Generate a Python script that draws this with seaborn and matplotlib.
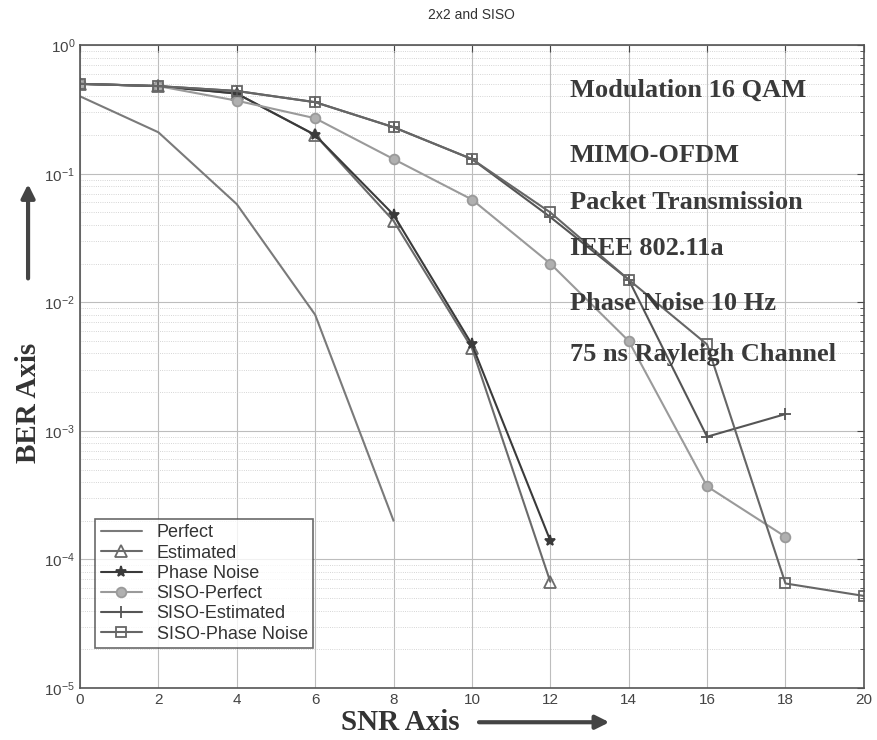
import numpy as np
import pandas as pd
import seaborn as sns
import matplotlib.pyplot as plt
from matplotlib.ticker import LogLocator, NullFormatter

# SNR points
snr = [0, 2, 4, 6, 8, 10, 12, 14, 16, 18, 20]

# BER values
perfect = [0.40, 0.21, 0.058, 0.008, 2.0e-4]
estimated = [0.50, 0.48, 0.42, 0.20, 0.043, 0.0044, 6.7e-5]
phase_noise = [0.50, 0.48, 0.42, 0.20, 0.048, 0.0047, 1.4e-4]
siso_perfect = [0.50, 0.48, 0.37, 0.27, 0.13, 0.063, 0.020, 0.0050, 3.7e-4, 1.5e-4]
siso_estimated = [0.50, 0.48, 0.44, 0.36, 0.23, 0.13, 0.046, 0.015, 9.0e-4, 1.35e-3]
siso_phase = [0.50, 0.48, 0.44, 0.36, 0.23, 0.13, 0.050, 0.015, 0.0047, 6.5e-5, 5.2e-5]

labels = ["Perfect", "Estimated", "Phase Noise", "SISO-Perfect", "SISO-Estimated", "SISO-Phase Noise"]
series = [perfect, estimated, phase_noise, siso_perfect, siso_estimated, siso_phase]

rows = []
for name, vals in zip(labels, series):
    for x, v in zip(snr, vals):
        rows.append({"SNR": x, "BER": v, "curve": name})
df = pd.DataFrame(rows)

styles = {
    "Perfect": dict(color="#7a7a7a", marker=None, mfc="none", ms=0),
    "Estimated": dict(color="#6a6a6a", marker="^", mfc="none", ms=8),
    "Phase Noise": dict(color="#3a3a3a", marker="*", mfc="#3a3a3a", ms=8),
    "SISO-Perfect": dict(color="#9a9a9a", marker="o", mfc="#b0b0b0", ms=7),
    "SISO-Estimated": dict(color="#555555", marker="+", mfc="none", ms=9),
    "SISO-Phase Noise": dict(color="#666666", marker="s", mfc="none", ms=7),
}

sns.set_style("white")
plt.rcParams["font.family"] = ["Liberation Sans", "DejaVu Sans"]

fig = plt.figure(figsize=(8.77, 7.40), dpi=100)
ax = fig.add_axes([0.0912, 0.0703, 0.8938, 0.8687])

for name in labels:
    st = styles[name]
    sub = df[df["curve"] == name]
    sns.lineplot(data=sub, x="SNR", y="BER", ax=ax, color=st["color"], lw=1.5,
                 marker=st["marker"], markersize=st["ms"], markerfacecolor=st["mfc"],
                 markeredgecolor=st["color"], markeredgewidth=1.3, label=name,
                 estimator=None)

ax.set_yscale("log")
ax.set_xlim(0, 20)
ax.set_ylim(1e-5, 1)
ax.set_xticks(range(0, 21, 2))
ax.yaxis.set_major_locator(LogLocator(base=10, numticks=10))
ax.yaxis.set_minor_locator(LogLocator(base=10, subs=np.arange(2, 10), numticks=20))
ax.yaxis.set_minor_formatter(NullFormatter())
ax.grid(True, which="major", color="#bdbdbd", lw=0.8, ls="-")
ax.grid(True, which="minor", axis="y", color="#c8c8c8", lw=0.6, ls=":")
ax.tick_params(axis="both", which="both", direction="in", colors="#444444",
               labelsize=11, top=True, right=True)
ax.tick_params(axis="both", which="major", length=5)
ax.tick_params(axis="y", which="minor", length=3)
for sp in ax.spines.values():
    sp.set_color("#555555")
    sp.set_linewidth(1.2)
ax.set_xlabel("")
ax.set_ylabel("")
ax.set_title("2x2 and SISO", fontsize=10, color="#333333", pad=19)

leg = ax.legend(loc="lower left", bbox_to_anchor=(0.008, 0.048), fontsize=13,
                frameon=True, fancybox=False, edgecolor="#444444",
                handlelength=2.3, borderpad=0.3, labelspacing=0.18)
leg.get_frame().set_linewidth(1.2)
for t in leg.get_texts():
    t.set_color("#333333")

# Annotation block on the right
notes = ["Modulation 16 QAM", "MIMO-OFDM", "Packet Transmission",
         "IEEE 802.11a", "Phase Noise 10 Hz", "75 ns Rayleigh Channel"]
note_y = [0.93, 0.829, 0.755, 0.683, 0.598, 0.518]
for txt, yy in zip(notes, note_y):
    ax.text(0.625, yy, txt, transform=ax.transAxes, fontsize=19, fontweight="bold",
            family="Liberation Serif", color="#3a3a3a", va="center", ha="left")

# Axis labels with arrows
fig.text(0.032, 0.455, "BER Axis", rotation=90, fontsize=21, fontweight="bold",
         family="Liberation Serif", color="#333333", ha="center", va="center")
fig.add_artist(plt.Annotation("", xy=(0.032, 0.755), xytext=(0.032, 0.62),
                              xycoords="figure fraction", textcoords="figure fraction",
                              arrowprops=dict(arrowstyle="-|>", color="#444444", lw=3,
                                              mutation_scale=20)))
fig.text(0.457, 0.024, "SNR Axis", fontsize=21, fontweight="bold",
         family="Liberation Serif", color="#333333", ha="center", va="center")
fig.add_artist(plt.Annotation("", xy=(0.698, 0.024), xytext=(0.543, 0.024),
                              xycoords="figure fraction", textcoords="figure fraction",
                              arrowprops=dict(arrowstyle="-|>", color="#444444", lw=3,
                                              mutation_scale=20)))

fig.savefig("out.png", dpi=100)
